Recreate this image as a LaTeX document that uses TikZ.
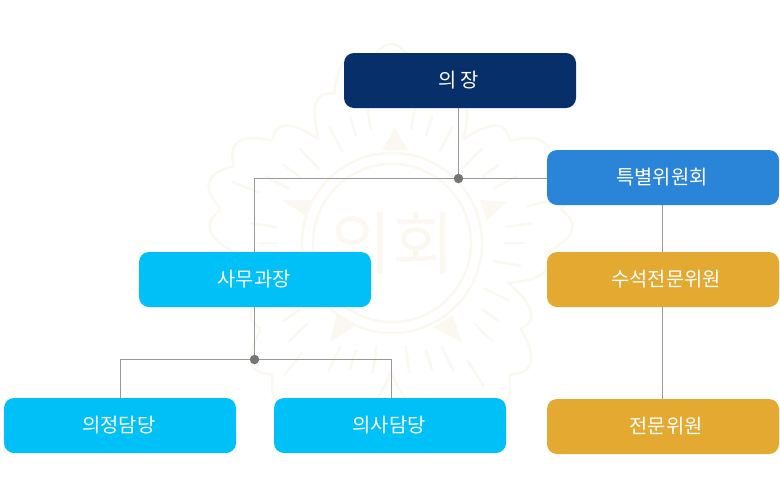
\documentclass[tikz,border=0pt]{standalone}
\usepackage{fontspec}
\setmainfont{Noto Sans CJK KR}
\definecolor{navy}{HTML}{07306B}
\definecolor{midblue}{HTML}{2A84D8}
\definecolor{gold}{HTML}{E3A931}
\definecolor{sky}{HTML}{00C0F8}
\definecolor{wline}{HTML}{999999}
\definecolor{wdot}{HTML}{767676}
\definecolor{seal}{HTML}{FBF8F2}
\newcommand{\boxlabel}[2]{\kern#1pt\raisebox{-1pt}{#2}}
\tikzset{
 x=1pt,y=-1pt,
 box/.style={rounded corners=10pt,minimum width=232pt,minimum height=55pt,inner sep=0pt,text=white,font=\fontsize{19.8}{22}\selectfont},
 conn/.style={draw=wline,line width=1pt},
 jdot/.style={circle,fill=wdot,minimum size=9.5pt,inner sep=0pt},
 sealline/.style={draw=seal,line width=2.6pt,line cap=round},
}
\begin{document}
\begin{tikzpicture}
\useasboundingbox (0,0) rectangle (780,491);
% watermark seal
\begin{scope}[shift={(391,243)},x=1pt,y=1pt]
 \begin{scope}[xscale=0.96]
 \draw[sealline,line join=round] plot[domain=0:360,samples=500,variable=\t] (\t:{128+55*abs(cos(2.5*(\t-90)))+16*abs(cos(12.5*(\t-90)))}) -- cycle;
 \end{scope}
 \draw[sealline] (1,0) circle (90);
 \draw[sealline] (1,0) circle (79);
 \foreach \a in {90,18,162,234,306}{
  \foreach \o/\ri/\ro in {-28/104/131,-18/113/133,-10/116/142,10/116/142,18/113/133,28/104/131,-3/141/170}{
   \draw[sealline] (\a+\o:\ri) -- (\a+\o:\ro);
  }
 }
\end{scope}
\fill[seal] (395,128) -- (382,150) -- (408,150) -- cycle;
\fill[seal] (282,200) -- (313,200) -- (307,217) -- cycle;
\fill[seal] (480,200) -- (507,202) -- (487,220) -- cycle;
\fill[seal] (337,313) -- (357,325) -- (330,342) -- cycle;
\fill[seal] (453,315) -- (462,343) -- (433,327) -- cycle;
\node[text=seal,font=\fontsize{68}{70}\selectfont,inner sep=0pt] (sealtext) at (392,243) {의회};
% boxes
\node[box,fill=navy] (chair) at (460,80.5) {\boxlabel{-3}{의 장}};
\node[box,fill=midblue] (special) at (663,177.5) {\boxlabel{-2}{특별위원회}};
\node[box,fill=gold] (senior) at (663,279.5) {\boxlabel{6}{수석전문위원}};
\node[box,fill=gold] (expert) at (663,426.5) {\boxlabel{6}{전문위원}};
\node[box,fill=sky] (office) at (255,279.5) {\boxlabel{-2}{사무과장}};
\node[box,fill=sky] (jeong) at (120,425.5) {\boxlabel{-2}{의정담당}};
\node[box,fill=sky] (uisa) at (390,425.5) {\boxlabel{-2}{의사담당}};
% junctions and bend points
\coordinate (j1) at (458.5,178.5);
\coordinate (j2) at (254.5,359.5);
\coordinate (vr) at (662.5,300);
\coordinate (b1) at (254.5,178.5);
\coordinate (b2) at (120.5,359.5);
\coordinate (b3) at (391.5,359.5);
% connectors
\draw[conn] (chair.south -| j1) -- (j1);
\draw[conn] (special.west |- j1) -- (j1) -- (b1) -- (office.north -| b1);
\draw[conn] (special.south -| vr) -- (senior.north -| vr);
\draw[conn] (senior.south -| vr) -- (expert.north -| vr);
\draw[conn] (office.south -| j2) -- (j2);
\draw[conn] (jeong.north -| b2) -- (b2) -- (b3) -- (uisa.north -| b3);
\node[jdot] (d1) at (j1) {};
\node[jdot] (d2) at (j2) {};
\end{tikzpicture}
\end{document}
